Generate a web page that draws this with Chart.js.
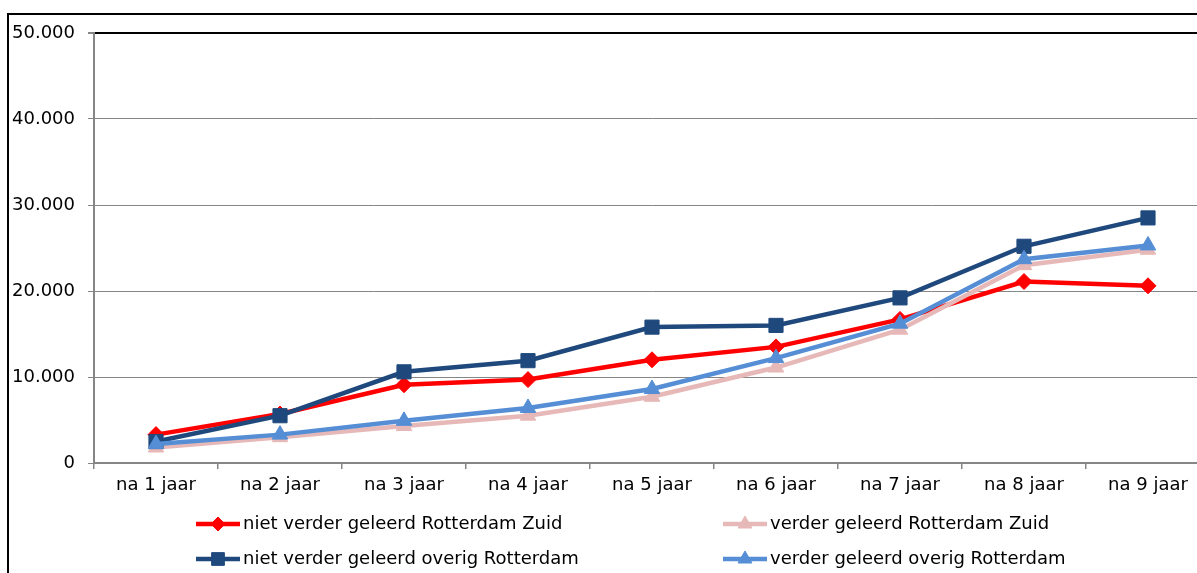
<!DOCTYPE html>
<html>
<head>
<meta charset="utf-8">
<script src="https://cdn.jsdelivr.net/npm/chart.js@4.4.1/dist/chart.umd.min.js"></script>
<style>
  html, body { margin: 0; padding: 0; background: #fff; overflow: hidden; width: 1197px; height: 573px; }
  #frame { position: absolute; left: 7px; top: 13px; width: 1240px; height: 600px; border: 2px solid #000; }
  canvas { display: block; }
</style>
</head>
<body>
<div id="frame"><canvas id="chart" width="1240" height="600"></canvas></div>
<script>
var categories = ['na 1 jaar', 'na 2 jaar', 'na 3 jaar', 'na 4 jaar', 'na 5 jaar', 'na 6 jaar', 'na 7 jaar', 'na 8 jaar', 'na 9 jaar'];
var nietVerderZuid   = [3300, 5700, 9100, 9700, 12000, 13500, 16700, 21100, 20600];
var verderZuid       = [1800, 3000, 4300, 5500, 7700, 11100, 15500, 23000, 24800];
var nietVerderOverig = [2500, 5500, 10600, 11900, 15800, 16000, 19200, 25200, 28500];
var verderOverig     = [2200, 3300, 4900, 6400, 8600, 12200, 16200, 23700, 25300];
var yTicks = [0, 10000, 20000, 30000, 40000, 50000];

var FONT = { family: "'DejaVu Sans', sans-serif", size: 18 };
var GRID = '#868686';

// 50000 -> "50.000"
function fmt(v) {
    var s = String(Math.round(v));
    return s.replace(/\B(?=(\d{3})+(?!\d))/g, '.');
}

function series(label, data, color, style, radius, order) {
    return {
        label: label,
        data: data,
        borderColor: color,
        backgroundColor: color,
        borderWidth: 4.5,
        pointStyle: style,
        pointRadius: radius,
        pointHoverRadius: radius,
        pointBorderWidth: 1,
        pointBackgroundColor: color,
        pointBorderColor: color,
        tension: 0,
        order: order
    };
}

// two-column legend below the axis
var legendPlugin = {
    id: 'twoColLegend',
    afterDraw(chart) {
        var ctx = chart.ctx;
        var cols = [187, 714];
        var rows = [509, 544];
        chart.data.datasets.forEach(function (ds, i) {
            var x = cols[i % 2], y = rows[Math.floor(i / 2)];
            ctx.save();
            ctx.strokeStyle = ds.borderColor;
            ctx.lineWidth = 4.5;
            ctx.beginPath();
            ctx.moveTo(x, y);
            ctx.lineTo(x + 44, y);
            ctx.stroke();
            ctx.fillStyle = ds.pointBackgroundColor;
            ctx.strokeStyle = ds.pointBorderColor;
            ctx.lineWidth = 1;
            Chart.helpers.drawPoint(ctx, { pointStyle: ds.pointStyle, radius: ds.pointRadius - 1, rotation: 0, borderWidth: 1 }, x + 22, y);
            ctx.fillStyle = '#000';
            ctx.font = FONT.size + 'px ' + FONT.family;
            ctx.textBaseline = 'middle';
            ctx.textAlign = 'left';
            ctx.fillText(ds.label, x + 47, y);
            ctx.restore();
        });
    }
};

new Chart(document.getElementById('chart'), {
    type: 'line',
    data: {
        labels: categories,
        datasets: [
            series('niet verder geleerd Rotterdam Zuid', nietVerderZuid, '#FF0000', 'rectRot', 8, 4),
            series('verder geleerd Rotterdam Zuid', verderZuid, '#E6B9B8', 'triangle', 9, 3),
            series('niet verder geleerd overig Rotterdam', nietVerderOverig, '#1F497D', 'rect', 10, 2),
            series('verder geleerd overig Rotterdam', verderOverig, '#558ED5', 'triangle', 9, 1)
        ]
    },
    options: {
        responsive: false,
        animation: false,
        devicePixelRatio: 1,
        layout: { padding: { top: 18, right: 39, bottom: 0, left: 0 } },
        plugins: { legend: { display: false }, tooltip: { enabled: false } },
        scales: {
            x: {
                offset: true,
                grid: { offset: true, drawOnChartArea: false, drawTicks: true, tickLength: 6, color: GRID, lineWidth: 1.5 },
                border: { color: GRID, width: 2 },
                ticks: { color: '#000', font: FONT, padding: 6, maxRotation: 0 },
                afterFit(scale) { scale.height = 152; }
            },
            y: {
                min: 0,
                max: 50000,
                afterBuildTicks(scale) { scale.ticks = yTicks.map(function (v) { return { value: v }; }); },
                grid: {
                    color: function (c) { return c.tick && c.tick.value === 50000 ? '#000' : GRID; },
                    lineWidth: function (c) { return c.tick && c.tick.value === 50000 ? 2 : 1; },
                    tickColor: GRID,
                    tickLength: 6
                },
                border: { color: GRID, width: 2 },
                ticks: { color: '#000', font: FONT, padding: 13, callback: function (v) { return fmt(v); } },
                afterFit(scale) {
                    scale.width = 85;
                    scale.paddingTop = 0;
                    scale.paddingBottom = 0;
                }
            }
        }
    },
    plugins: [legendPlugin]
});
</script>
</body>
</html>
